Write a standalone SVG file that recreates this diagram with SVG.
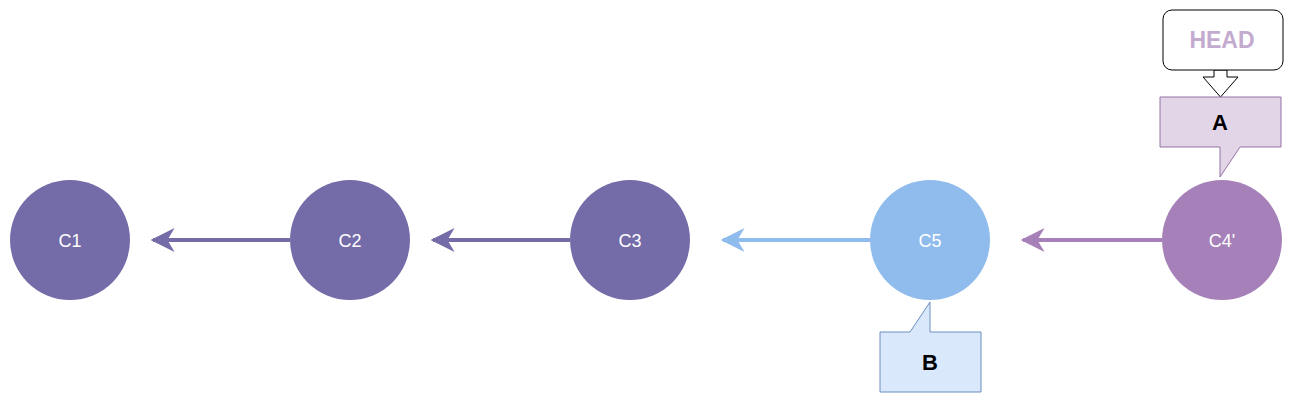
<svg xmlns="http://www.w3.org/2000/svg" width="1295" height="404" viewBox="0 0 1295 404">
<defs>
<style>
.lbl{font-family:"Liberation Sans",Arial,sans-serif;font-size:18px;fill:#fff;text-anchor:middle;dominant-baseline:central}
.bold{font-family:"Liberation Sans",Arial,sans-serif;font-size:22px;font-weight:bold;fill:#000;text-anchor:middle;dominant-baseline:central}
.edge{fill:none;stroke-width:4}
</style>
<marker id="mP" viewBox="0 0 10 10" refX="9" refY="5" markerWidth="6.5" markerHeight="6" orient="auto" markerUnits="strokeWidth"><path d="M0,0 L10,5 L0,10 L3,5 Z" fill="#736CA8"/></marker>
<marker id="mB" viewBox="0 0 10 10" refX="9" refY="5" markerWidth="6.5" markerHeight="6" orient="auto" markerUnits="strokeWidth"><path d="M0,0 L10,5 L0,10 L3,5 Z" fill="#8FBCEC"/></marker>
<marker id="mV" viewBox="0 0 10 10" refX="9" refY="5" markerWidth="6.5" markerHeight="6" orient="auto" markerUnits="strokeWidth"><path d="M0,0 L10,5 L0,10 L3,5 Z" fill="#A680B8"/></marker>
</defs>
<rect width="1295" height="404" fill="#fff"/>
<g id="connectors">
<path class="edge" d="M290,240 L153,240" stroke="#736CA8" marker-end="url(#mP)"/>
<path class="edge" d="M570,240 L433,240" stroke="#736CA8" marker-end="url(#mP)"/>
<path class="edge" d="M870,240 L723,240" stroke="#8FBCEC" marker-end="url(#mB)"/>
<path class="edge" d="M1162,240 L1023,240" stroke="#A680B8" marker-end="url(#mV)"/>
<path d="M1214,70 L1227,70 L1227,77 L1238,77 L1220.5,97 L1203,77 L1214,77 Z" fill="#fff" stroke="#000" stroke-width="1"/>
</g>
<g id="C1"><circle cx="70" cy="240" r="60" fill="#736CA8"/><text class="lbl" x="70" y="241">C1</text></g>
<g id="C2"><circle cx="350" cy="240" r="60" fill="#736CA8"/><text class="lbl" x="350" y="241">C2</text></g>
<g id="C3"><circle cx="630" cy="240" r="60" fill="#736CA8"/><text class="lbl" x="630" y="241">C3</text></g>
<g id="C5"><circle cx="930" cy="240" r="60" fill="#8FBCEC"/><text class="lbl" x="930" y="241">C5</text></g>
<g id="C4p"><circle cx="1222" cy="240" r="60" fill="#A680B8"/><text class="lbl" x="1222" y="241">C4'</text></g>
<g id="HEAD"><rect x="1163" y="10" width="120" height="60" rx="9" fill="#fff" stroke="#000" stroke-width="1"/><text class="bold" x="1222" y="40" style="fill:#C3ABD0;font-size:23px">HEAD</text></g>
<g id="A"><path d="M1160,97 L1281,97 L1281,147 L1240,147 L1220,177 L1220,147 L1160,147 Z" fill="#E1D5E7" stroke="#9673A6" stroke-width="1"/><text class="bold" x="1220" y="122">A</text></g>
<g id="B"><path d="M880,332 L910,332 L930,302 L930,332 L981,332 L981,392 L880,392 Z" fill="#DAE8FC" stroke="#6C8EBF" stroke-width="1"/><text class="bold" x="930" y="362">B</text></g>
</svg>
